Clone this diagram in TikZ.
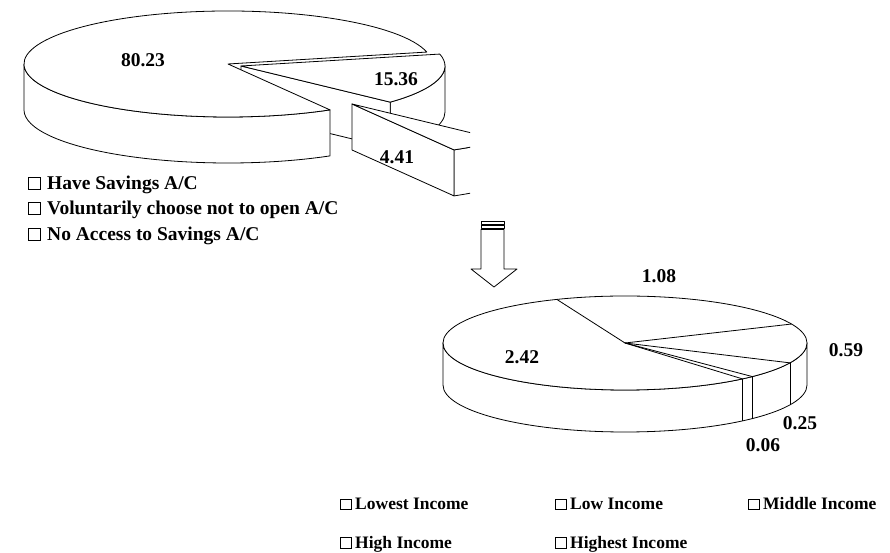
\documentclass[tikz,border=0pt]{standalone}
\usepackage{fontspec}
\setmainfont{Liberation Serif}
\begin{document}
\begin{tikzpicture}[x=1pt,y=1pt,
  pie/.style={draw=black, fill=white, line width=0.8pt, line join=round},
  edge/.style={draw=black, line width=0.8pt},
  num/.style={font=\fontsize{19.5}{20}\selectfont\bfseries, inner sep=0pt},
  legtxt/.style={font=\fontsize{19.5}{20}\selectfont\bfseries, anchor=base west, inner sep=0pt},
  legtxts/.style={font=\fontsize{17.5}{18}\selectfont\bfseries, anchor=base west, inner sep=0pt},
  legbox/.style={draw, line width=0.6pt, minimum size=11.5pt, inner sep=0pt, anchor=south west},
  legboxs/.style={draw, line width=0.6pt, minimum size=10.5pt, inner sep=0pt, anchor=south west}]
\useasboundingbox (0,0) rectangle (890,553);

% ---------- top pie ----------
\begin{scope}
\clip (0,280) rectangle (470,553);
\coordinate (Ac) at (228,489);
\coordinate (Bc) at (241,487);
\coordinate (Bd) at (241,441);
\coordinate (Cc) at (352,449);
\coordinate (Cd) at (352,403);
% slice B (15.36)
\path[pie] (Bc) ++(-43:204pt and 53pt) arc[start angle=-43,end angle=0,x radius=204pt,y radius=53pt] -- ++(0,-46) arc[start angle=0,end angle=-43,x radius=204pt,y radius=53pt] -- cycle;
\path[pie] (Bc) -- ++(-43:204pt and 53pt) -- ++(0,-46) -- (Bd) -- cycle;
\path[pie] (Bc) -- ++(-43:204pt and 53pt) arc[start angle=-43,end angle=13,x radius=204pt,y radius=53pt] -- cycle;
% slice A (80.23)
\path[pie] (Ac) ++(180:204pt and 53pt) arc[start angle=180,end angle=300,x radius=204pt,y radius=53pt] -- ++(0,-46) arc[start angle=300,end angle=180,x radius=204pt,y radius=53pt] -- cycle;
\path[pie] (Ac) -- ++(13:204pt and 53pt) arc[start angle=13,end angle=300,x radius=204pt,y radius=53pt] -- cycle;
% slice C (4.41)
\path[pie] (Cc) ++(-60:204pt and 53pt) arc[start angle=-60,end angle=-43,x radius=204pt,y radius=53pt] -- ++(0,-46) arc[start angle=-43,end angle=-60,x radius=204pt,y radius=53pt] -- cycle;
\path[pie] (Cc) -- ++(-60:204pt and 53pt) -- ++(0,-46) -- (Cd) -- cycle;
\path[pie] (Cc) -- ++(-60:204pt and 53pt) arc[start angle=-60,end angle=-43,x radius=204pt,y radius=53pt] -- cycle;
\node[num] (lA) at (143,493) {80.23};
\node[num] (lB) at (396,474) {15.36};
\node[num] (lC) at (397,396) {4.41};
\end{scope}

% ---------- top legend ----------
\node[legbox] (k1) at (28,363.5) {};
\node[legtxt] (t1) at (47,363.5) {Have Savings A/C};
\node[legbox] (k2) at (28,338.5) {};
\node[legtxt] (t2) at (47,338.5) {Voluntarily choose not to open A/C};
\node[legbox] (k3) at (28,312.5) {};
\node[legtxt] (t3) at (47,312.5) {No Access to Savings A/C};

% ---------- block arrow ----------
\path[pie] (481,331.5) rectangle (504,329);
\path[pie] (481,327.5) rectangle (504,325);
\path[pie] (481,323.5) -- (481,284) -- (471,284) -- (494,266) -- (517,284) -- (504,284) -- (504,323.5) -- cycle;

% ---------- bottom pie ----------
\coordinate (Pc) at (625,210);
\path[pie] (Pc) ++(180:182pt and 47pt) arc[start angle=180,end angle=360,x radius=182pt,y radius=47pt] -- ++(0,-42) arc[start angle=360,end angle=180,x radius=182pt,y radius=47pt] -- cycle;
\path[edge] (Pc) ++(-49.8:182pt and 47pt) -- ++(0,-42);
\path[edge] (Pc) ++(-45.6:182pt and 47pt) -- ++(0,-42);
\path[edge] (Pc) ++(-25:182pt and 47pt) -- ++(0,-42);
\path[pie] (Pc) ellipse[x radius=182pt, y radius=47pt];
\path[edge] (Pc) -- ++(112:182pt and 47pt);
\path[edge] (Pc) -- ++(23.8:182pt and 47pt);
\path[edge] (Pc) -- ++(-25:182pt and 47pt);
\path[edge] (Pc) -- ++(-45.6:182pt and 47pt);
\path[edge] (Pc) -- ++(-49.8:182pt and 47pt);
\node[num] (p1) at (522,196) {2.42};
\node[num] (p2) at (659,277) {1.08};
\node[num] (p3) at (846,203) {0.59};
\node[num] (p4) at (800,130) {0.25};
\node[num] (p5) at (763,108) {0.06};

% ---------- bottom legend ----------
\node[legboxs] (m1) at (340,43) {};
\node[legtxts] (u1) at (355,43) {Lowest Income};
\node[legboxs] (m2) at (555,43) {};
\node[legtxts] (u2) at (570,43) {Low Income};
\node[legboxs] (m3) at (748,43) {};
\node[legtxts] (u3) at (763,43) {Middle Income};
\node[legboxs] (m4) at (340,4.5) {};
\node[legtxts] (u4) at (355,4.5) {High Income};
\node[legboxs] (m5) at (555,4.5) {};
\node[legtxts] (u5) at (570,4.5) {Highest Income};
\end{tikzpicture}
\end{document}
